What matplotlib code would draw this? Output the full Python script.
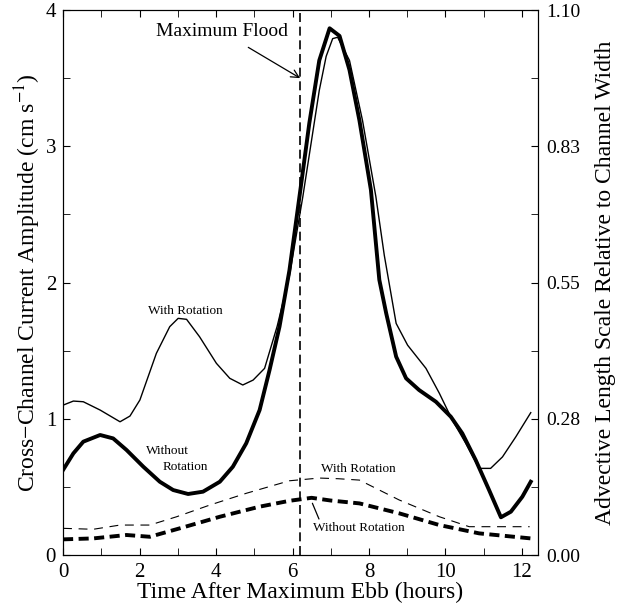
import matplotlib
matplotlib.use("Agg")
import matplotlib.pyplot as plt

plt.rcParams["font.family"] = ["Liberation Serif", "DejaVu Serif"]
plt.rcParams["mathtext.fontset"] = "stix"

# current amplitude with rotation (thin solid)
t_rot = [0.0, 0.27, 0.53, 0.97, 1.49, 1.75, 2.01, 2.44, 2.79, 3.01, 3.23, 3.57, 4.01,
         4.36, 4.70, 4.97, 5.27, 5.6, 5.92, 6.27, 6.70, 6.88, 7.05, 7.18, 7.49, 7.83,
         8.18, 8.40, 8.71, 9.01, 9.49, 9.84, 10.18, 10.53, 10.88, 11.18, 11.49, 11.84,
         12.23]
amp_rot = [1.10, 1.13, 1.125, 1.064, 0.978, 1.02, 1.138, 1.48, 1.676, 1.737, 1.73, 1.602,
           1.407, 1.297, 1.248, 1.284, 1.37, 1.68, 2.05, 2.63, 3.41, 3.66, 3.79, 3.80,
           3.63, 3.19, 2.63, 2.20, 1.70, 1.54, 1.37, 1.187, 0.99, 0.82, 0.636, 0.636,
           0.72, 0.868, 1.045]

# current amplitude without rotation (thick solid)
t_norot = [0.0, 0.27, 0.53, 0.97, 1.31, 1.66, 2.10, 2.53, 2.88, 3.27, 3.66, 4.10, 4.44,
           4.79, 5.14, 5.40, 5.66, 5.92, 6.23, 6.44, 6.70, 6.97, 7.23, 7.49, 7.75, 8.05,
           8.27, 8.45, 8.71, 8.97, 9.31, 9.75, 10.14, 10.44, 10.79, 11.14, 11.45, 11.71,
           12.01, 12.23]
amp_norot = [0.624, 0.746, 0.832, 0.881, 0.856, 0.771, 0.648, 0.538, 0.477, 0.448, 0.465,
             0.538, 0.648, 0.82, 1.064, 1.358, 1.676, 2.09, 2.73, 3.17, 3.63, 3.866,
             3.81, 3.56, 3.19, 2.68, 2.02, 1.774, 1.456, 1.297, 1.211, 1.125, 1.015,
             0.893, 0.697, 0.477, 0.277, 0.318, 0.428, 0.538]

# advective length scale with rotation (thin dashed)
t_adv_rot = [0.0, 0.79, 1.49, 2.27, 2.97, 3.84, 4.79, 5.92, 6.7, 7.2, 7.75, 8.79, 9.84,
             10.62, 11.3, 12.2]
adv_rot = [0.196, 0.189, 0.22, 0.22, 0.281, 0.367, 0.453, 0.545, 0.565, 0.56, 0.55,
           0.404, 0.281, 0.208, 0.208, 0.208]

# advective length scale without rotation (thick dashed)
t_adv_norot = [0.0, 0.79, 1.66, 2.27, 3.14, 4.10, 5.14, 5.92, 6.5, 7.0, 7.75, 8.79, 9.84,
               10.88, 12.23]
adv_norot = [0.115, 0.122, 0.147, 0.134, 0.203, 0.281, 0.355, 0.398, 0.42, 0.40, 0.379,
             0.306, 0.22, 0.159, 0.122]

t_flood = 6.2
right_labels = ["0.00", "0.28", "0.55", "0.83", "1.10"]

fig = plt.figure(figsize=(6.18, 6.11), dpi=100)
ax = fig.add_axes([0.102, 0.0916, 0.7686, 0.892])

ax.plot(t_rot, amp_rot, color="k", lw=1.0)
ax.plot(t_norot, amp_norot, color="k", lw=2.8)
ax.plot(t_adv_rot, adv_rot, color="k", lw=0.8, dashes=(8, 6))
ax.plot(t_adv_norot, adv_norot, color="k", lw=2.8, dashes=(2.6, 1.4))
ax.axvline(t_flood, color="k", lw=1.2, dashes=(5.4, 2.8))

ax.set_xlim(0, 12.42)
ax.set_ylim(0, 4)
ax.set_xticks(range(0, 13, 2))
ax.set_xticks(range(0, 13), minor=True)
ax.set_yticks([0, 1, 2, 3, 4])
ax.set_yticks([0.5, 1.5, 2.5, 3.5], minor=True)
ax.tick_params(which="both", direction="in", top=True, labelsize=15, length=5, pad=6)
ax.tick_params(axis="y", which="both", right=False, pad=5)
ax.set_xlabel("Time After Maximum Ebb (hours)", fontsize=17, labelpad=0)
ax.set_ylabel("Cross\u2212Channel Current Amplitude (cm s$^{-1}$)", fontsize=17, labelpad=2)

ax2 = ax.twinx()
ax2.set_ylim(0, 4)
ax2.set_yticks([0, 1, 2, 3, 4])
ax2.set_yticklabels(right_labels)
ax2.set_yticks([0.5, 1.5, 2.5, 3.5], minor=True)
ax2.tick_params(which="both", direction="in", labelsize=14, length=5, pad=6)
ax2.set_ylabel("Advective Length Scale Relative to Channel Width", fontsize=17, labelpad=10)

ax.annotate("Maximum Flood", xy=(t_flood, 3.5), xytext=(4.16, 3.84), ha="center",
            va="center", fontsize=14,
            arrowprops=dict(arrowstyle="->", color="k", lw=0.9, shrinkA=6, shrinkB=0))
ax.text(3.2, 1.79, "With Rotation", fontsize=9.5, ha="center", va="center")
ax.text(2.74, 0.76, "Without", fontsize=9.5, ha="center", va="center")
ax.text(3.19, 0.645, "Rotation", fontsize=9.5, ha="center", va="center")
ax.text(7.72, 0.63, "With Rotation", fontsize=9.5, ha="center", va="center")
ax.annotate("Without Rotation", xy=(6.52, 0.38), xytext=(7.73, 0.20), ha="center",
            va="center", fontsize=9.5,
            arrowprops=dict(arrowstyle="-", color="k", lw=0.9, shrinkA=0, shrinkB=0,
                            relpos=(0.08, 1.0)))

fig.savefig("out.png", dpi=100)
